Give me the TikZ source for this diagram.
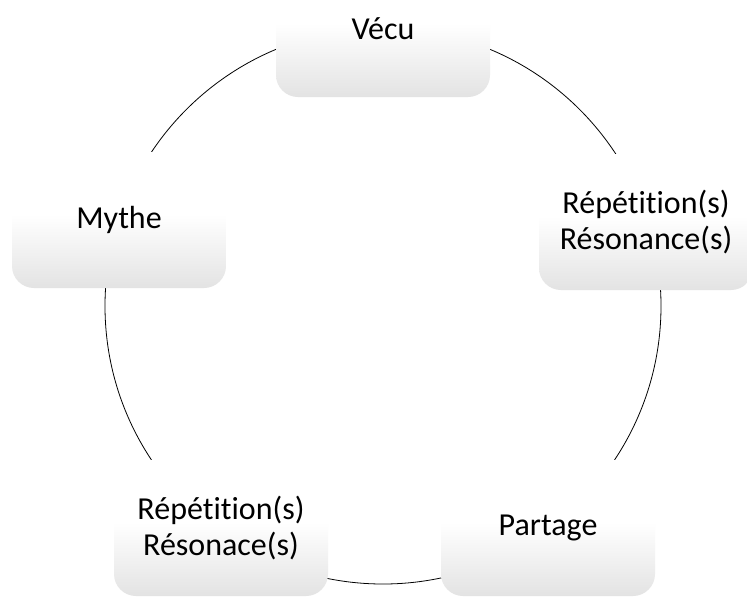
\documentclass[tikz,border=0pt]{standalone}
\usepackage{fontspec}
\setmainfont{Carlito}[Ligatures=NoCommon]
\pgfdeclareverticalshading{boxshade}{100bp}{color(0bp)=(black!11); color(25bp)=(black!11); color(52bp)=(white); color(100bp)=(white)}
\tikzset{
  cyclebox/.style={shading=boxshade, rounded corners=22pt, minimum width=214pt,
    minimum height=136pt, align=center, font=\fontsize{32pt}{36pt}\selectfont, inner sep=0pt},
  ring/.style={draw=black, line width=0.8pt}
}
\begin{document}
\begin{tikzpicture}[x=1pt,y=-1pt]
\clip (0,0) rectangle (747,598);
\fill[white] (0,0) rectangle (747,598);
\coordinate (c) at (383,306);
\draw[ring] (c) circle (278pt);
\node[cyclebox] (vecu) at (383,29) {Vécu};
\node[cyclebox] (rep1) at (646,222) {Répétition(s)\\Résonance(s)};
\node[cyclebox] (partage) at (548,528) {Partage};
\node[cyclebox] (rep2) at (221,528) {Répétition(s)\\Résonace(s)};
\node[cyclebox] (mythe) at (119,220) {Mythe};
\end{tikzpicture}
\end{document}
